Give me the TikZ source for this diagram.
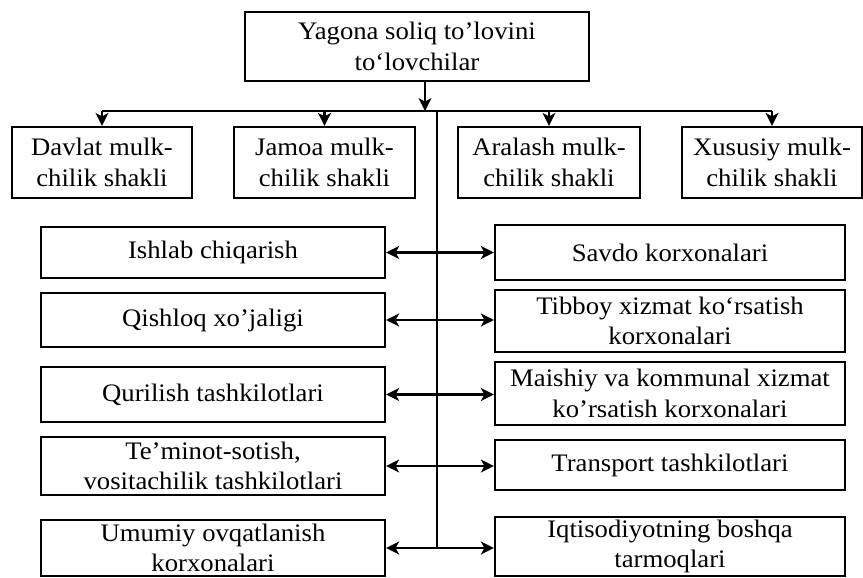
\documentclass[tikz,border=0pt]{standalone}
\usepackage{fontspec}
\setmainfont[FakeStretch=1.06]{Liberation Serif}
\usepackage{tikz}
\usetikzlibrary{arrows.meta}
\usetikzlibrary{calc}

\begin{document}
\begin{tikzpicture}[x=0.03cm,y=-0.03cm,
        box/.style={draw,line width=2pt,inner sep=0pt,align=center,
            font=\fontsize{21.5}{26}\selectfont},
        link/.style={line width=2pt},
        >={Stealth[length=11pt,width=11pt,inset=3pt]}]
        \useasboundingbox (0,0) rectangle (863,577);

        \node[box,minimum width=10.32cm,minimum height=2.07cm] (top) at (417,46.5) {Yagona soliq to'lovini\\to`lovchilar};

        \node[box,minimum width=5.4cm,minimum height=2.13cm] (davlat) at (102,162.5) {Davlat mulk-\\chilik shakli};
        \node[box,minimum width=5.43cm,minimum height=2.13cm] (jamoa) at (324.5,162.5) {Jamoa mulk-\\chilik shakli};
        \node[box,minimum width=5.46cm,minimum height=2.13cm] (aralash) at (549,162.5) {Aralash mulk-\\chilik shakli};
        \node[box,minimum width=5.4cm,minimum height=2.13cm] (xususiy) at (772,162.5) {Xususiy mulk-\\chilik shakli};

        \node[box,minimum width=10.32cm,minimum height=1.53cm] (ishlab) at (213,252.5) {Ishlab chiqarish};
        \node[box,minimum width=10.32cm,minimum height=1.62cm] (qishloq) at (213,320) {Qishloq xo'jaligi};
        \node[box,minimum width=10.32cm,minimum height=1.65cm] (qurilish) at (213,394.5) {Qurilish tashkilotlari};
        \node[box,minimum width=10.32cm,minimum height=1.74cm] (teminot) at (213,466) {Te'minot-sotish,\\vositachilik tashkilotlari};
        \node[box,minimum width=10.32cm,minimum height=1.68cm] (umumiy) at (213,548) {Umumiy ovqatlanish\\korxonalari};

        \node[box,minimum width=10.5cm,minimum height=1.65cm] (savdo) at (670,252.5) {Savdo korxonalari};
        \node[box,minimum width=10.5cm,minimum height=1.86cm] (tibboy) at (670,321) {Tibboy xizmat ko`rsatish\\korxonalari};
        \node[box,minimum width=10.5cm,minimum height=1.89cm] (maishiy) at (670,393.5) {Maishiy va kommunal xizmat\\ko'rsatish korxonalari};
        \node[box,minimum width=10.5cm,minimum height=1.5cm] (transport) at (670,465) {Transport tashkilotlari};
        \node[box,minimum width=10.5cm,minimum height=1.77cm] (iqtisod) at (670,546.5) {Iqtisodiyotning boshqa\\tarmoqlari};

        \coordinate (hub) at (425,111);
        \coordinate (trunk) at (437,111);
        \draw[link,->] (top.south -| hub) -- (hub);
        \draw[link] (davlat.north |- hub) -- (xususiy.north |- hub);
        \foreach \n in {davlat,jamoa,aralash,xususiy}
            \draw[link,->] (\n.north |- hub) -- (\n.north);
        \draw[link] (trunk) -- (trunk |- umumiy.east);
        \foreach \l/\r in {ishlab/savdo,qishloq/tibboy,qurilish/maishiy,teminot/transport,umumiy/iqtisod}
            \draw[link,<->] (\l.east) -- (\l.east -| \r.west);
    \end{tikzpicture}
\end{document}
